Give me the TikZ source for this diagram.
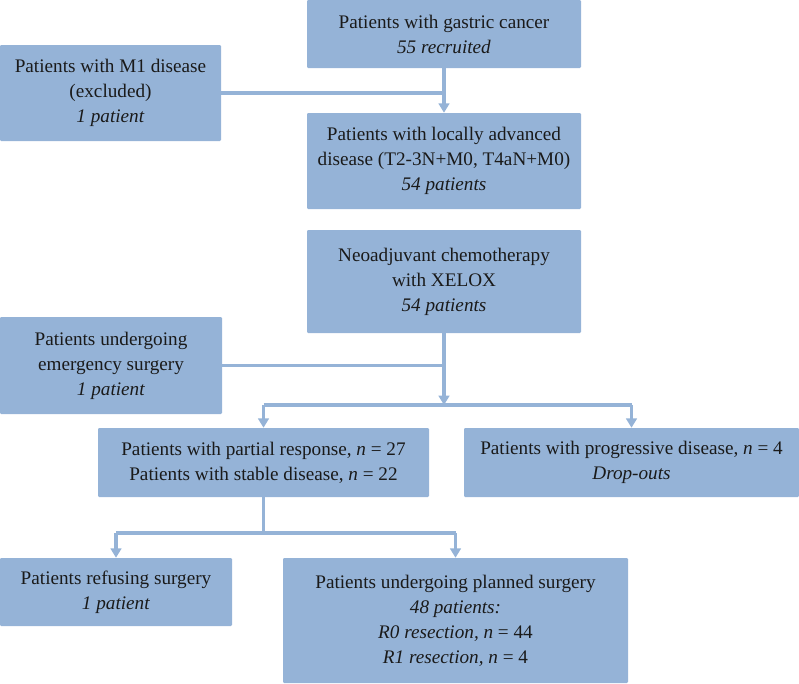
\documentclass[tikz,border=0pt]{standalone}
\usepackage{fontspec}
\setmainfont{Liberation Serif}
\usepackage{xcolor}
\usetikzlibrary{arrows.meta}
\definecolor{fcblue}{HTML}{95B3D7}
\definecolor{fctext}{HTML}{1A1A1A}
\tikzset{
  fcbox/.style={fill=fcblue, draw=none, rounded corners=0.8pt, align=center, inner sep=0pt,
    text=fctext, font=\fontsize{14.4}{18.7}\selectfont},
  fcline/.style={line width=2.4pt, draw=fcblue, line cap=butt},
  fcarrow/.style={fcline, -{Triangle[length=7pt,width=8pt]}},
}

\begin{document}
\begin{tikzpicture}[x=0.75pt,y=-0.75pt]
\useasboundingbox (0,0) rectangle (799,683);
\node[fcbox, minimum width=205.5pt, minimum height=51pt] (top) at (444,34)
  {Patients with gastric cancer\\ \textit{55 recruited}};
\node[fcbox, minimum width=165.75pt, minimum height=72pt] (m1) at (110.5,93)
  {Patients with M1 disease\\ (excluded)\\ \textit{1 patient}};
\node[fcbox, minimum width=205.5pt, minimum height=72pt] (local) at (444,161)
  {Patients with locally advanced\\ disease (T2-3N+M0, T4aN+M0)\\ \textit{54 patients}};
\node[fcbox, minimum width=205.5pt, minimum height=77.25pt] (neo) at (444,281.5)
  {Neoadjuvant chemotherapy\\ with XELOX\\ \textit{54 patients}};
\node[fcbox, minimum width=166.5pt, minimum height=72.75pt] (emerg) at (111,365.5)
  {Patients undergoing\\ emergency surgery\\ \textit{1 patient}};
\node[fcbox, minimum width=248.25pt, minimum height=51.75pt] (partial) at (263.5,462.5)
  {Patients with partial response, \textit{n} = 27\\ Patients with stable disease, \textit{n} = 22};
\node[fcbox, minimum width=251.25pt, minimum height=51.75pt] (progr) at (631.5,462.5)
  {Patients with progressive disease, \textit{n} = 4\\ \textit{Drop-outs}};
\node[fcbox, minimum width=174pt, minimum height=51pt] (refuse) at (116,592)
  {Patients refusing surgery\\ \textit{1 patient}};
\node[fcbox, minimum width=258.75pt, minimum height=93.75pt] (planned) at (455.5,620.5)
  {Patients undergoing planned surgery\\ \textit{48 patients:}\\ \textit{R0 resection, n} = 44\\ \textit{R1 resection, n} = 4};
\coordinate (split1) at (444,405);
\coordinate (split2) at (263.5,533);
\draw[fcarrow] (top.south) -- (local.north);
\draw[fcline] (m1.east) -- (m1.east -| top.south);
\draw[fcarrow] (neo.south) -- (split1);
\draw[fcline] (emerg.east) -- (emerg.east -| neo.south);
\draw[fcline] (split1 -| partial.north) -- (split1 -| progr.north);
\draw[fcarrow] (split1 -| partial.north) -- (partial.north);
\draw[fcarrow] (split1 -| progr.north) -- (progr.north);
\draw[fcline] (partial.south) -- (split2);
\draw[fcline] (split2 -| refuse.north) -- (split2 -| planned.north);
\draw[fcarrow] (split2 -| refuse.north) -- (refuse.north);
\draw[fcarrow] (split2 -| planned.north) -- (planned.north);
\end{tikzpicture}
\end{document}
